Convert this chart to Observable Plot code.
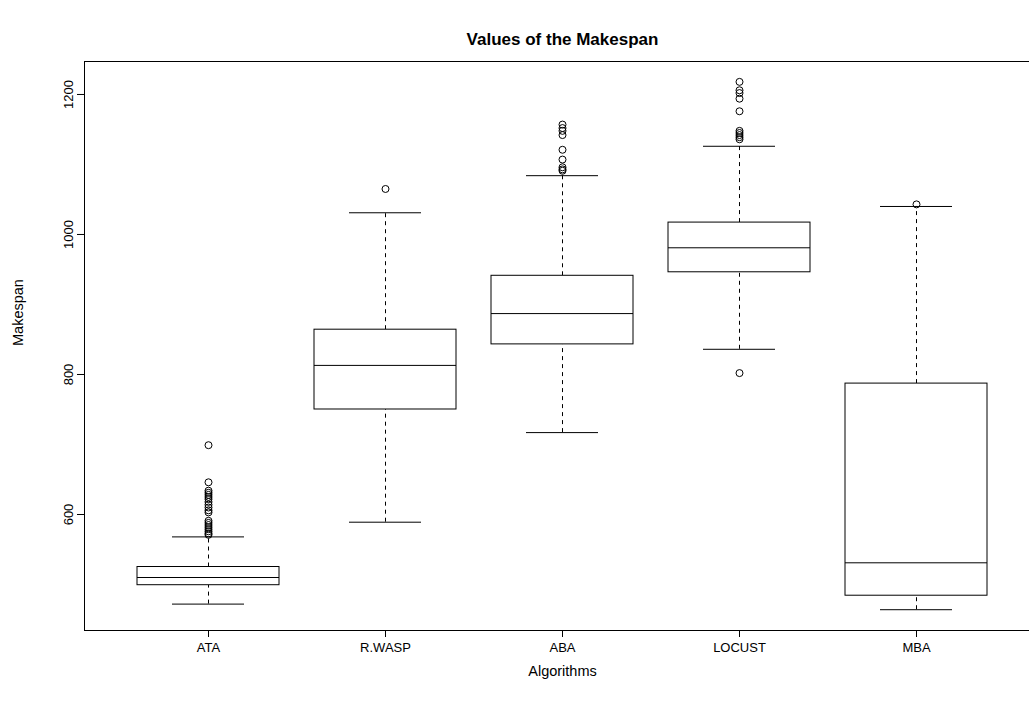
<!DOCTYPE html>
<html>
<head>
<meta charset="utf-8">
<script src="https://cdn.jsdelivr.net/npm/d3@7"></script>
<script src="https://cdn.jsdelivr.net/npm/@observablehq/plot@0.6"></script>
<style>
  html, body { margin: 0; padding: 0; background: #fff; overflow: hidden; }
  #chart svg { display: block; }
</style>
</head>
<body>
<div id="chart"></div>
<script>
// Summary statistics of the makespan for each scheduling algorithm
const algorithms    = ["ATA", "R.WASP", "ABA", "LOCUST", "MBA"];
const lowerWhisker  = [472, 589, 717, 836, 464];
const lowerQuartile = [499, 750, 843, 946, 484];
const medians       = [510, 813, 887, 981, 531];
const upperQuartile = [525, 864, 941, 1017, 787];
const upperWhisker  = [568, 1031, 1084, 1126, 1040];

// Points beyond the whiskers
const ataOutliers    = [699, 646, 634, 631, 628, 625, 622, 618, 614, 610, 606, 603, 591, 588, 585, 582, 579, 576, 573, 571];
const rwaspOutliers  = [1065];
const abaOutliers    = [1157, 1152, 1148, 1142, 1121, 1107, 1096, 1093, 1091];
const locustOutliers = [1218, 1206, 1202, 1194, 1176, 1148, 1145, 1142, 1139, 1136, 802];
const mbaOutliers    = [1043];

const yTicks = [600, 800, 1000, 1200];

const stats = algorithms.map((algorithm, i) => ({
  algorithm,
  lo: lowerWhisker[i],
  q1: lowerQuartile[i],
  median: medians[i],
  q3: upperQuartile[i],
  hi: upperWhisker[i]
}));

const outlierLists = [ataOutliers, rwaspOutliers, abaOutliers, locustOutliers, mbaOutliers];
const outliers = algorithms.flatMap((algorithm, i) =>
  outlierLists[i].map((value) => ({algorithm, value}))
);

// The plotting region runs a little past the right edge of the image (negative right margin)
const chart = Plot.plot({
  width: 1029,
  height: 711,
  marginLeft: 84,
  marginRight: -11,
  marginTop: 61,
  marginBottom: 81,
  style: {
    fontFamily: "'Liberation Sans', Arial, Helvetica, sans-serif",
    fontSize: "13px",
    color: "#000",
    background: "#fff",
    overflow: "hidden",
    maxWidth: "none"
  },
  x: {type: "band", domain: algorithms, paddingInner: 0.2, paddingOuter: 0.3, align: 0.5},
  y: {domain: [434.3, 1247.1]},
  marks: [
    // dashed whiskers
    Plot.ruleX(stats, {x: "algorithm", y1: "q3", y2: "hi", stroke: "#000", strokeDasharray: "4,4"}),
    Plot.ruleX(stats, {x: "algorithm", y1: "lo", y2: "q1", stroke: "#000", strokeDasharray: "4,4"}),
    // whisker caps
    Plot.tickY(stats, {x: "algorithm", y: "hi", stroke: "#000", insetLeft: 35, insetRight: 35}),
    Plot.tickY(stats, {x: "algorithm", y: "lo", stroke: "#000", insetLeft: 35, insetRight: 35}),
    // boxes and medians
    Plot.barY(stats, {x: "algorithm", y1: "q1", y2: "q3", fill: "#fff", stroke: "#000"}),
    Plot.tickY(stats, {x: "algorithm", y: "median", stroke: "#000"}),
    // outliers
    Plot.dot(outliers, {x: "algorithm", y: "value", r: 3.5, stroke: "#000", fill: "none", strokeWidth: 1}),
    Plot.frame({stroke: "#000"}),
    Plot.axisX({tickSize: 7, tickPadding: 5, label: null, fontSize: 13}),
    Plot.axisY({ticks: yTicks, tickFormat: (d) => String(d), tickSize: 7, tickPadding: 5, tickRotate: -90, textAnchor: "middle", label: null, fontSize: 13}),
    // titles
    Plot.text(["Values of the Makespan"], {frameAnchor: "top", dy: -29, fontWeight: "bold", fontSize: 17}),
    Plot.text(["Algorithms"], {frameAnchor: "bottom", dy: 45, fontSize: 14.5}),
    Plot.text(["Makespan"], {frameAnchor: "left", dx: -66, rotate: -90, fontSize: 14.5})
  ]
});

document.getElementById("chart").appendChild(chart);
</script>
</body>
</html>
